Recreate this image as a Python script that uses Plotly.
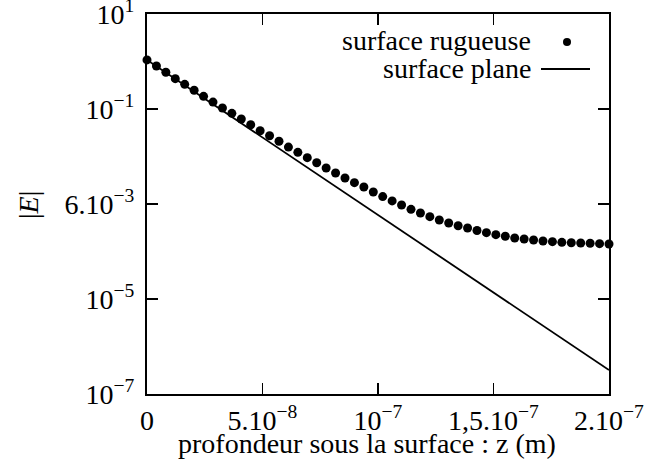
import plotly.graph_objects as go

# --- data ---
z_rough = [i * 2e-7 / 49 for i in range(50)]  # 50 equally spaced sample depths from 0 to 2e-7 m
E_rough = [1.08, 0.804, 0.593, 0.435, 0.331, 0.248, 0.185, 0.140, 0.105, 0.0811,
           0.0615, 0.0465, 0.0349, 0.0274, 0.0209, 0.0158, 0.01225, 0.00944, 0.00740, 0.00573,
           0.00450, 0.00352, 0.00281, 0.00228, 0.00179, 0.00143, 0.00116, 0.000953, 0.000773, 0.000647,
           0.000541, 0.000460, 0.000398, 0.000349, 0.000313, 0.000277, 0.000249, 0.000226, 0.000209, 0.000192,
           0.000183, 0.000175, 0.000166, 0.000161, 0.000156, 0.000153, 0.000151, 0.000149, 0.000146, 0.000144]
z_plane = [0.0, 2e-7]
E_plane = [1.08, 3.2e-7]

x_tickvals = [0, 5e-8, 1e-7, 1.5e-7, 2e-7]
x_ticktext = ["0", "5.10<sup>−8</sup>", "10<sup>−7</sup>", "1,5.10<sup>−7</sup>", "2.10<sup>−7</sup>"]
y_tickvals = [10, 1e-1, 1e-3, 1e-5, 1e-7]
y_ticktext = ["10<sup>1</sup>", "10<sup>−1</sup>", "6.10<sup>−3</sup>", "10<sup>−5</sup>", "10<sup>−7</sup>"]

legend_labels = ["surface rugueuse", "surface plane"]
x_title = "profondeur sous la surface : z (m)"
y_title = "|<i>E</i>|"

FONT = "Liberation Serif"
FS = 28

L, R, T, B = 147, 37, 14, 68
W, H = 646, 462
PW, PH = W - L - R, H - T - B


def px(x):
    return (x - L) / PW


def py(y):
    return (H - B - y) / PH


fig = go.Figure()
fig.add_trace(go.Scatter(x=z_plane, y=E_plane, mode="lines",
                         line=dict(color="black", width=1.8), name=legend_labels[1],
                         showlegend=False, hoverinfo="skip"))
fig.add_trace(go.Scatter(x=z_rough, y=E_rough, mode="markers",
                         marker=dict(color="black", size=9), name=legend_labels[0],
                         showlegend=False, cliponaxis=False, hoverinfo="skip"))

tfont = dict(family=FONT, size=FS, color="black")

# manual legend (text right-aligned, symbol to the right)
fig.add_annotation(xref="paper", yref="paper", x=px(533), y=py(40),
                   text=legend_labels[0], showarrow=False, xanchor="right", yanchor="middle",
                   font=tfont)
fig.add_annotation(xref="paper", yref="paper", x=px(533), y=py(68),
                   text=legend_labels[1], showarrow=False, xanchor="right", yanchor="middle",
                   font=tfont)
fig.add_shape(type="circle", xref="paper", yref="paper",
              x0=px(567 - 4), x1=px(567 + 4), y0=py(42 + 4), y1=py(42 - 4),
              fillcolor="black", line=dict(color="black", width=0))
fig.add_shape(type="line", xref="paper", yref="paper",
              x0=px(541), x1=px(590), y0=py(69), y1=py(69),
              line=dict(color="black", width=1.8))

# axis titles
fig.add_annotation(xref="paper", yref="paper", x=px(367), y=py(443),
                   text=x_title, showarrow=False, xanchor="center", yanchor="middle",
                   font=tfont)
fig.add_annotation(xref="paper", yref="paper", x=px(28), y=py(205),
                   text=y_title, showarrow=False, xanchor="center", yanchor="middle",
                   textangle=-90, font=tfont)

axis_common = dict(showline=True, linecolor="black", linewidth=2, mirror="ticks",
                   ticks="inside", ticklen=11, tickwidth=1.8, tickcolor="black",
                   showgrid=False, zeroline=False, automargin=False,
                   ticklabeloverflow="allow", tickfont=tfont)

fig.update_xaxes(range=[0, 2e-7], tickmode="array", tickvals=x_tickvals, ticktext=x_ticktext,
                 ticklabelstandoff=0, **axis_common)
fig.update_yaxes(type="log", range=[-7, 1], tickmode="array", tickvals=y_tickvals, ticktext=y_ticktext,
                 ticklabelstandoff=5, **axis_common)

fig.update_layout(width=W, height=H, plot_bgcolor="white", paper_bgcolor="white",
                  margin=dict(l=L, r=R, t=T, b=B, autoexpand=False), showlegend=False,
                  font=tfont, hovermode=False)

fig.write_html("out.html", config={"displayModeBar": False, "staticPlot": True},
               post_script="document.body.style.margin='0';")
